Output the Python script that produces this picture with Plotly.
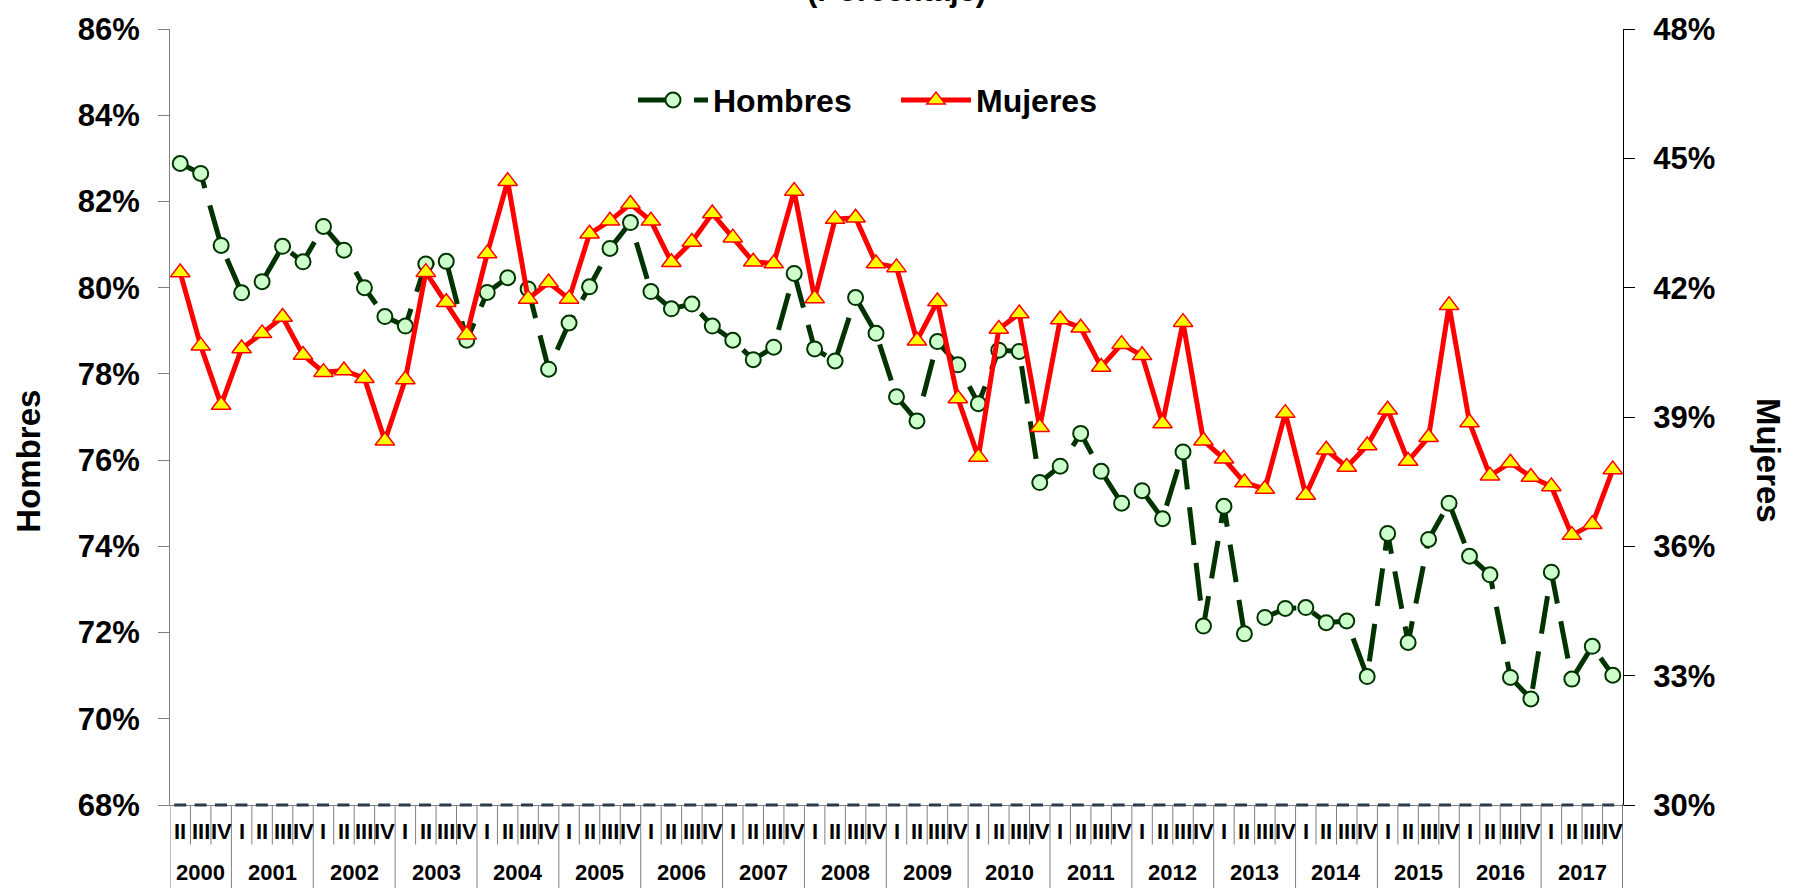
import plotly.graph_objects as go

# ---------------- data ----------------
anios = [str(a) for a in range(2000, 2018)]
trimestres = ["I", "II", "III", "IV"]
primer_trimestre_2000 = "II"

hombres = [82.88, 82.65, 80.98,
           79.88, 80.14, 80.96, 80.60,
           81.42, 80.87, 80.00, 79.33,
           79.11, 80.55, 80.61, 78.78,
           79.89, 80.23, 79.97, 78.11,
           79.18, 80.02, 80.91, 81.51,
           79.91, 79.51, 79.62, 79.11,
           78.78, 78.33, 78.62, 80.33,
           78.58, 78.30, 79.77, 78.94,
           77.47, 76.91, 78.75, 78.21,
           77.31, 78.55, 78.52, 75.48,
           75.86, 76.62, 75.74, 75.00,
           75.29, 74.64, 76.19, 72.15,
           74.93, 71.97, 72.35, 72.56,
           72.58, 72.23, 72.27, 70.98,
           74.30, 71.77, 74.16, 75.00,
           73.77, 73.34, 70.96, 70.46,
           73.40, 70.92, 71.68, 71.01]

mujeres = [42.35, 40.65, 39.28,
           40.59, 40.94, 41.32, 40.44,
           40.04, 40.08, 39.90, 38.45,
           39.87, 42.36, 41.66, 40.91,
           42.79, 44.47, 41.74, 42.12,
           41.74, 43.25, 43.55, 43.94,
           43.55, 42.59, 43.06, 43.72,
           43.16, 42.60, 42.56, 44.24,
           41.75, 43.59, 43.62, 42.56,
           42.47, 40.77, 41.68, 39.43,
           38.07, 41.04, 41.40, 38.76,
           41.26, 41.07, 40.16, 40.69,
           40.43, 38.85, 41.20, 38.45,
           38.03, 37.48, 37.33, 39.09,
           37.19, 38.24, 37.84, 38.34,
           39.17, 37.98, 38.53, 41.59,
           38.87, 37.64, 37.94, 37.61,
           37.39, 36.26, 36.51, 37.78]

# ---------------- categories ----------------
cat_anio, cat_trim = [], []
for a in anios:
    for t in trimestres:
        if a == "2000" and trimestres.index(t) < trimestres.index(primer_trimestre_2000):
            continue
        cat_anio.append(a)
        cat_trim.append(t)
categorias = [f"{a}-{t}" for a, t in zip(cat_anio, cat_trim)]
n = len(categorias)

FONT = "Arial, 'Liberation Sans', sans-serif"
W, H = 1805, 889
ML, MR, MT, MB = 170, 182, 20, 84
PH = H - MT - MB
PW = W - ML - MR


def py(pix):
    """pixel y (from top) -> paper y"""
    return (H - MB - pix) / PH


def px(pix):
    """pixel x (from left) -> paper x"""
    return (pix - ML) / PW


fig = go.Figure()
fig.add_trace(go.Scatter(
    x=categorias, y=hombres, name="Hombres", mode="lines+markers", yaxis="y",
    line=dict(color="#003300", width=5, dash="38px,18px"),
    marker=dict(symbol="circle", size=15, color="#CCFFCC",
                line=dict(color="#003300", width=2)),
))
fig.add_trace(go.Scatter(
    x=categorias, y=mujeres, name="Mujeres", mode="lines+markers", yaxis="y2",
    line=dict(color="#FF0000", width=5),
    marker=dict(symbol="triangle-up", size=17, color="#FFFF00",
                line=dict(color="#FF0000", width=1.5)),
))

shapes = []
# dashed baseline
shapes.append(dict(type="line", xref="paper", yref="paper", x0=0, x1=1, y0=0, y1=0,
                   line=dict(color="#2b3a4a", width=3, dash="0px,4.2px,12px,4.2px"),
                   layer="above"))
# quarter ticks and year dividers
for i in range(n + 1):
    is_year = (i == 0 or i == n or cat_trim[i] == "I")
    shapes.append(dict(type="line", xref="x", yref="paper",
                       x0=i - 0.5, x1=i - 0.5, y0=0,
                       y1=py(889) if is_year else py(845),
                       line=dict(color="#000000" if i == n else "#808080", width=1)))

annotations = []
for i, t in enumerate(cat_trim):
    annotations.append(dict(x=i, xref="x", y=py(832), yref="paper", text=t,
                            showarrow=False, xanchor="center", yanchor="middle",
                            font=dict(family=FONT, size=22, color="black", weight="bold")))
for a in anios:
    idx = [i for i, ca in enumerate(cat_anio) if ca == a]
    annotations.append(dict(x=(idx[0] + idx[-1]) / 2, xref="x", y=py(873), yref="paper",
                            text=a, showarrow=False, xanchor="center", yanchor="middle",
                            font=dict(family=FONT, size=22, color="black", weight="bold")))
# titles
annotations.append(dict(x=0.5, xref="paper", y=1, yref="paper", yshift=39,
                        text="(Porcentaje)", showarrow=False, xanchor="center", yanchor="middle",
                        font=dict(family=FONT, size=31, color="black", weight="bold")))
annotations.append(dict(x=px(28.7), xref="paper", y=py(457), yref="paper",
                        text="Hombres", textangle=-90, showarrow=False,
                        xanchor="center", yanchor="middle",
                        font=dict(family=FONT, size=33, color="black", weight="bold")))
annotations.append(dict(x=px(1769), xref="paper", y=py(456), yref="paper",
                        text="Mujeres", textangle=90, showarrow=False,
                        xanchor="center", yanchor="middle",
                        font=dict(family=FONT, size=33, color="black", weight="bold")))

tickfont = dict(family=FONT, size=31, color="black", weight="bold")
fig.update_layout(
    width=W, height=H, autosize=False,
    margin=dict(l=ML, r=MR, t=MT, b=MB, pad=0),
    paper_bgcolor="white", plot_bgcolor="white",
    showlegend=True,
    legend=dict(orientation="h", x=px(633), xanchor="left",
                y=py(92), yanchor="middle", bgcolor="rgba(0,0,0,0)",
                font=dict(family=FONT, size=32, color="black", weight="bold"),
                itemwidth=70, entrywidth=178, traceorder="normal"),
    xaxis=dict(type="category", range=[-0.5, n - 0.5], showticklabels=False, ticks="",
               showline=True, linecolor="#808080", linewidth=1, showgrid=False,
               zeroline=False, categoryorder="array", categoryarray=categorias),
    yaxis=dict(range=[68, 86], tick0=68, dtick=2, ticksuffix="%", tickformat="d",
               ticks="outside", ticklen=11, tickcolor="#808080", showline=True,
               linecolor="#808080", linewidth=1, showgrid=False, zeroline=False,
               tickfont=tickfont, ticklabelstandoff=12),
    yaxis2=dict(range=[30, 48], tick0=30, dtick=3, ticksuffix="%", tickformat="d",
                overlaying="y", side="right",
                ticks="outside", ticklen=11, tickcolor="#000000", showline=True,
                linecolor="#000000", linewidth=1, showgrid=False, zeroline=False,
                tickfont=tickfont, ticklabelstandoff=12),
    shapes=shapes,
    annotations=annotations,
)

fig.write_html("out.html", config={"displayModeBar": False},
               post_script="document.body.style.margin='0';document.body.style.overflow='hidden';")
